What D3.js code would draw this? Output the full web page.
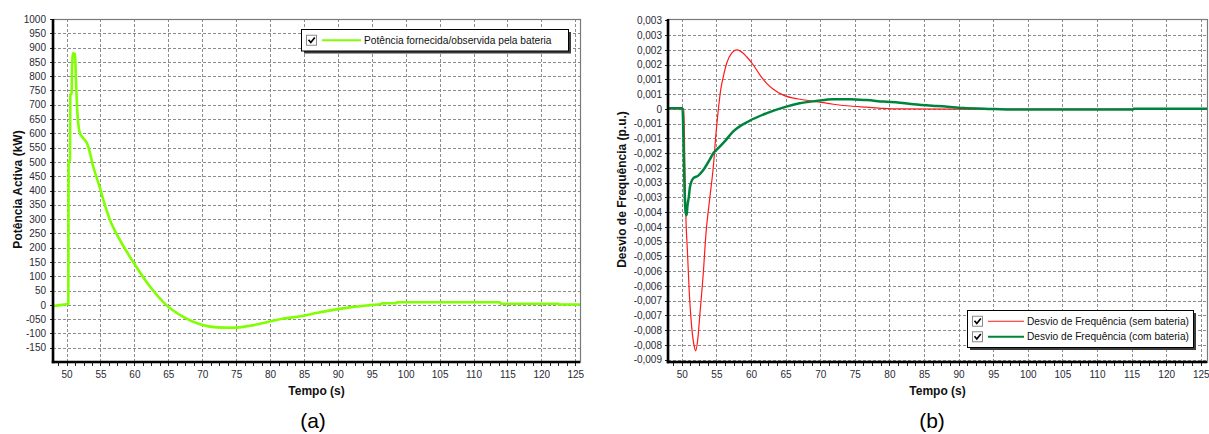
<!DOCTYPE html>
<html>
<head>
<meta charset="utf-8">
<script src="https://cdn.jsdelivr.net/npm/d3@7"></script>
<style>
  html, body { margin: 0; padding: 0; background: #fff; }
  svg { display: block; }
  text { font-family: "Liberation Sans", Arial, sans-serif; }
</style>
</head>
<body>
<svg id="chart" width="1209" height="434"></svg>
<script>
// ---- (a) Active power delivered/absorbed by the battery ----
const powerTime = [48, 49, 50.0, 50.26, 50.3, 50.5, 50.55, 50.75, 50.8, 50.95, 51.25, 51.4, 51.6, 51.98,
  52.47, 52.97, 53.2, 53.94, 54.93, 55.42, 56.4, 57.88, 59.85, 62.3, 64.76, 67.2, 69.67, 72.13,
  74.58, 77.04, 79.5, 82.0, 84.5, 87.0, 89.8, 92.0, 94.7, 96.45, 96.5, 98.65, 98.7, 113.9, 114.0,
  122.5, 122.6, 125.7];
const powerKW = [-4, -1, 2, 3, 500, 505, 734, 740, 815, 880, 878, 775, 670, 600,
  583, 567, 553, 483, 408, 367, 297, 226, 149, 64, -2, -42, -68, -79,
  -80, -73, -61, -48, -40, -28, -16, -8, -1, 3, 5, 6, 9, 9, 4,
  4, 1, 1];

// ---- (b) Frequency deviation, without and with battery ----
const freqTimeNoBat = [48, 50.3, 50.45, 50.6, 50.8, 51.08, 51.42, 51.8, 52.0, 52.29, 52.62, 53.1, 53.49,
  54.0, 54.55, 54.94, 55.27, 55.61, 56.0, 56.48, 57.2, 57.93, 58.4, 59.37, 60.33, 61.3, 62.26,
  63.22, 64.67, 67.08, 69.49, 71.9, 74.3, 76.7, 79.1, 81.5, 93.7, 125.9];
const freqNoBat = [0, 0, -0.0022, -0.00377, -0.00478, -0.00625, -0.00738, -0.00806, -0.0082, -0.00784,
  -0.00693, -0.00557, -0.00422, -0.0031, -0.00196, -0.00082, -0.00003, 0.00064, 0.0011, 0.00155,
  0.00189, 0.002, 0.00197, 0.00177, 0.00149, 0.00115, 0.00087, 0.00067, 0.00047, 0.00033, 0.00025,
  0.00016, 0.0001, 0.00006, 0.00002, 0, -0.00001, 0];

const freqTimeBat = [48, 50.1, 50.25, 50.4, 50.55, 50.7, 50.8, 51.0, 51.18, 51.66, 52.38, 53.1, 54.07,
  54.55, 55.0, 56.2, 57.4, 59.8, 62.2, 65.1, 67.0, 69.4, 71.8, 74.3, 76.7, 79.1, 81.5, 83.5, 86.9,
  88.8, 90.8, 93.7, 98.1, 115.2, 115.3, 125.9];
const freqBat = [0.00002, 0.00002, -0.0012, -0.0028, -0.0035, -0.0036, -0.0033, -0.003, -0.00264,
  -0.00235, -0.00226, -0.00207, -0.0017, -0.0015, -0.00139, -0.0011, -0.00077, -0.0004, -0.00015,
  0.00008, 0.00019, 0.00027, 0.00033, 0.00033, 0.0003, 0.00025, 0.00021, 0.00016, 0.0001, 0.00007,
  0.00003, 0.00001, -0.00002, -0.00002, 0.00001, 0.00001];

// ---- axis ticks and labels ----
const timeTicks = [50, 55, 60, 65, 70, 75, 80, 85, 90, 95, 100, 105, 110, 115, 120, 125];
const timeMinorTicks = d3.range(0, 63).map(i => 48.75 + i * 1.25).filter(v => v <= 125.5);
const powerTicks = [1000, 950, 900, 850, 800, 750, 700, 650, 600, 550, 500, 450, 400, 350, 300, 250,
  200, 150, 100, 50, 0, -50, -100, -150];
const powerTickLabels = ["1000", "950", "900", "850", "800", "750", "700", "650", "600", "550", "500",
  "450", "400", "350", "300", "250", "200", "150", "100", "50", "0", "-050", "-100", "-150"];
const freqTicks = [0.003, 0.0025, 0.002, 0.0015, 0.001, 0.0005, 0, -0.0005, -0.001, -0.0015, -0.002,
  -0.0025, -0.003, -0.0035, -0.004, -0.0045, -0.005, -0.0055, -0.006, -0.0065, -0.007, -0.0075,
  -0.008, -0.0085];
const freqTickLabels = ["0,003", "0,003", "0,002", "0,002", "0,001", "0,001", "0", "-0,001", "-0,001",
  "-0,002", "-0,002", "-0,003", "-0,003", "-0,004", "-0,004", "-0,005", "-0,005", "-0,006", "-0,006",
  "-0,007", "-0,007", "-0,008", "-0,008", "-0,009"];

const svg = d3.select("#chart");

function drawPanel(opt) {
  const { left, right, top, bottom } = opt;
  const g = svg.append("g");
  const x = d3.scaleLinear().domain(opt.xDomain).range([left, right]);
  const y = d3.scaleLinear().domain(opt.yDomain).range([bottom, top]);

  // grid
  const grid = g.append("g").attr("stroke", "#8c8c8c").attr("stroke-width", 1)
    .attr("stroke-dasharray", "3,2").attr("shape-rendering", "crispEdges");
  grid.selectAll("line.v").data(timeTicks).join("line")
    .attr("x1", d => Math.round(x(d)) + 0.5).attr("x2", d => Math.round(x(d)) + 0.5)
    .attr("y1", top).attr("y2", bottom);
  grid.selectAll("line.h").data(opt.yTicks.filter(d => y(d) > top + 2)).join("line")
    .attr("y1", d => Math.round(y(d)) + 0.5).attr("y2", d => Math.round(y(d)) + 0.5)
    .attr("x1", left).attr("x2", right);

  // frame
  g.append("rect").attr("x", left + 0.5).attr("y", top + 0.5)
    .attr("width", right - left).attr("height", bottom - top)
    .attr("fill", "none").attr("stroke", "#7a7a7a").attr("stroke-width", 1.2);

  // series
  const clipId = "clip" + opt.id;
  g.append("clipPath").attr("id", clipId).append("rect")
    .attr("x", left).attr("y", top).attr("width", right - left).attr("height", bottom - top);
  opt.series.forEach(s => {
    const pts = s.t.map((t, i) => [t, s.v[i]]);
    g.append("path").datum(pts)
      .attr("clip-path", `url(#${clipId})`)
      .attr("fill", "none").attr("stroke", s.color).attr("stroke-width", s.width)
      .attr("stroke-linejoin", "round")
      .attr("d", d3.line().curve(d3.curveMonotoneX).x(d => x(d[0])).y(d => y(d[1])));
  });

  // x axis: labels + major ticks, then minor ticks
  const xa = g.append("g").attr("transform", `translate(0,${bottom})`)
    .call(d3.axisBottom(x).tickValues(timeTicks).tickSize(4).tickPadding(5).tickFormat(d3.format("d")));
  const xm = g.append("g").attr("transform", `translate(0,${bottom})`)
    .call(d3.axisBottom(x).tickValues(timeMinorTicks).tickSize(4).tickFormat(""));
  // y axis
  const ya = g.append("g").attr("transform", `translate(${left},0)`)
    .call(d3.axisLeft(y).tickValues(opt.yTicks).tickSize(3).tickPadding(opt.yPad)
      .tickFormat((d, i) => opt.yLabels[i]));
  [xa, xm, ya].forEach(a => {
    a.select(".domain").remove();
    a.selectAll("line").attr("stroke", "#222").attr("shape-rendering", "crispEdges");
    a.selectAll("text").attr("fill", "#2a2a35").attr("font-size", 10)
      .attr("font-family", "'Liberation Sans', Arial, sans-serif");
  });

  // thick left and bottom axis lines
  g.append("line").attr("x1", left).attr("x2", left).attr("y1", top).attr("y2", bottom + 1.2)
    .attr("stroke", "#000").attr("stroke-width", 2.6);
  g.append("line").attr("x1", left - 1.2).attr("x2", right).attr("y1", bottom).attr("y2", bottom)
    .attr("stroke", "#000").attr("stroke-width", 2.4);

  // axis titles
  g.append("text").attr("x", (left + right) / 2).attr("y", 395)
    .attr("text-anchor", "middle").attr("font-size", 12).attr("font-weight", "bold")
    .attr("fill", "#111").text("Tempo (s)");
  g.append("text").attr("transform", `translate(${opt.yTitleX},${(top + bottom) / 2 - 1}) rotate(-90)`)
    .attr("text-anchor", "middle").attr("dominant-baseline", "central")
    .attr("font-size", 12).attr("font-weight", "bold").attr("fill", "#111").text(opt.yTitle);

  // legend
  const L = opt.legend;
  const lg = g.append("g");
  const rowH = 15.5;
  const boxH = L.items.length * rowH + 6;
  lg.append("rect").attr("x", L.x + 3).attr("y", L.y + 3).attr("width", L.w).attr("height", boxH)
    .attr("fill", "#3c3c3c");
  lg.append("rect").attr("x", L.x + 0.5).attr("y", L.y + 0.5).attr("width", L.w).attr("height", boxH)
    .attr("fill", "#fff").attr("stroke", "#000").attr("stroke-width", 1);
  L.items.forEach((it, i) => {
    const cy = L.y + 3 + rowH / 2 + i * rowH + 0.5;
    const cx = L.x + 5;
    lg.append("rect").attr("x", cx + 0.5).attr("y", cy - 5).attr("width", 10).attr("height", 10)
      .attr("fill", "#fff").attr("stroke", "#8a8a8a");
    lg.append("path").attr("d", `M${cx + 2.5},${cy - 0.5} L${cx + 4.8},${cy + 2.2} L${cx + 8.8},${cy - 2.8}`)
      .attr("fill", "none").attr("stroke", "#000").attr("stroke-width", 1.7);
    lg.append("line").attr("x1", cx + 16).attr("x2", cx + L.lineLen + 16).attr("y1", cy).attr("y2", cy)
      .attr("stroke", it.color).attr("stroke-width", it.width);
    lg.append("text").attr("x", cx + L.lineLen + 19).attr("y", cy).attr("dominant-baseline", "central")
      .attr("font-size", 10.2).attr("fill", "#111").text(it.label);
  });

  // panel caption
  g.append("text").attr("x", opt.captionX).attr("y", 428).attr("text-anchor", "middle")
    .attr("font-family", "'Open Sans', sans-serif").attr("font-size", 21).attr("fill", "#000")
    .text(opt.caption);
}

drawPanel({
  id: "a", left: 53, right: 580, top: 19, bottom: 362,
  xDomain: [48, 125.7], yDomain: [-200, 1000],
  yTicks: powerTicks, yLabels: powerTickLabels, yPad: 4,
  yTitle: "Potência Activa (kW)", yTitleX: 17.5,
  series: [{ t: powerTime, v: powerKW, color: "#7fff00", width: 2.6 }],
  legend: { x: 301, y: 29, w: 267, lineLen: 39,
    items: [{ label: "Potência fornecida/observida pela bateria", color: "#7fff00", width: 2 }] },
  caption: "(a)", captionX: 313
});

drawPanel({
  id: "b", left: 668, right: 1207, top: 19, bottom: 362,
  xDomain: [48, 125.9], yDomain: [-0.00858, 0.00305],
  yTicks: freqTicks, yLabels: freqTickLabels, yPad: 3,
  yTitle: "Desvio de Frequência (p.u.)", yTitleX: 622,
  series: [
    { t: freqTimeNoBat, v: freqNoBat, color: "#ff1a1a", width: 1.2 },
    { t: freqTimeBat, v: freqBat, color: "#00843d", width: 2.5 }
  ],
  legend: { x: 967, y: 310, w: 226, lineLen: 36,
    items: [
      { label: "Desvio de Frequência (sem bateria)", color: "#ff1a1a", width: 1.2 },
      { label: "Desvio de Frequência (com bateria)", color: "#00843d", width: 2.2 }
    ] },
  caption: "(b)", captionX: 932
});
</script>
</body>
</html>
